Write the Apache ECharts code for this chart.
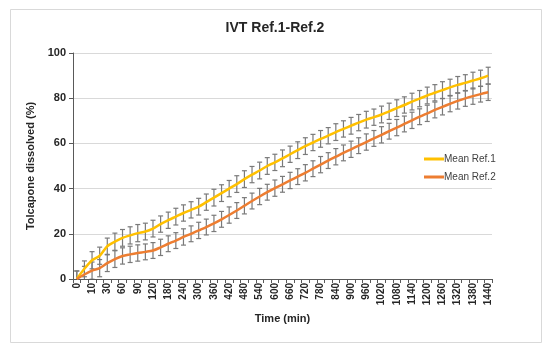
<!DOCTYPE html>
<html><head><meta charset="utf-8">
<script src="https://cdn.jsdelivr.net/npm/echarts@6/dist/echarts.min.js"></script>
<style>html,body{margin:0;padding:0;background:#fff}#c{width:550px;height:352px}</style>
</head><body><div id="c"></div>
<script>
const categories = ['0','5','10','20','30','45','60','75','90','105','120','150','180','210','240','270','300','330','360','390','420','450','480','510','540','570','600','630','660','690','720','750','780','810','840','870','900','930','960','990','1020','1050','1080','1110','1140','1170','1200','1230','1260','1290','1320','1350','1380','1410','1440'];
const ref1Mean = [0,4.5,8.3,10.3,14.5,16.5,18.2,19.3,20.3,21,22.3,24.3,26,27.6,29.2,30.6,32,34,36,38,40,42,44.2,46.2,48,50,51.6,53.4,55.2,57,58.8,60.4,62,63.4,65,66.4,67.8,69.2,70.5,71.6,72.8,74.2,75.6,77,78.5,79.8,81.2,82.4,83.6,84.8,85.9,86.8,87.8,88.8,90];
const ref1Sd = [3.6,3.5,3.8,3.8,3.6,3.8,3.7,3.8,3.8,3.7,3.7,3.6,3.6,3.7,3.6,3.6,3.7,3.6,3.7,3.7,3.6,3.7,3.7,3.6,3.7,3.7,3.6,3.7,3.6,3.7,3.7,3.6,3.7,3.6,3.7,3.6,3.7,3.6,3.7,3.6,3.7,3.6,3.7,3.6,3.7,3.6,3.7,3.6,3.7,3.6,3.7,3.6,3.7,3.6,3.7];
const ref2Mean = [0,2,3.7,4.8,7,8.8,10.2,10.9,11.5,12,12.6,14,15.6,17,18.6,20,21.5,23,24.6,26.4,28.3,30.3,32.4,34.5,36.5,38.4,40.2,41.9,43.6,45.3,47,48.8,50.6,52.4,54.1,55.8,57.4,59,60.6,62.2,63.8,65.4,67,68.6,70.2,71.8,73.3,74.8,76.2,77.5,78.8,79.9,80.9,81.8,82.6];
const ref2Sd = [3.5,3.6,3.8,3.8,3.7,3.7,3.6,3.6,3.6,3.5,3.5,3.6,3.5,3.5,3.6,3.5,3.6,3.5,3.6,3.5,3.6,3.5,3.6,3.5,3.6,3.5,3.6,3.5,3.6,3.5,3.6,3.5,3.6,3.5,3.6,3.5,3.6,3.5,3.6,3.5,3.6,3.5,3.6,3.5,3.6,3.5,3.6,3.5,3.6,3.5,3.6,3.5,3.6,3.5,3.6];
const seriesNames = ['Mean Ref.1','Mean Ref.2'];
const titleText = 'IVT Ref.1-Ref.2';
const xTitle = 'Time (min)';
const yTitle = 'Tolcapone dissolved (%)';

const chart = echarts.init(document.getElementById('c'), null, {renderer:'canvas'});
function errRender(params, api){
  const i = api.value(0), lo = api.value(1), hi = api.value(2);
  const p1 = api.coord([i, hi]), p2 = api.coord([i, lo]);
  const w = 2.5;
  const style = {stroke:'#7a7a7a', lineWidth:1.2};
  return {type:'group', children:[
    {type:'line', shape:{x1:p1[0],y1:p1[1],x2:p2[0],y2:p2[1]}, style},
    {type:'line', shape:{x1:p1[0]-w,y1:p1[1],x2:p1[0]+w,y2:p1[1]}, style},
    {type:'line', shape:{x1:p2[0]-w,y1:p2[1],x2:p2[0]+w,y2:p2[1]}, style}
  ]};
}
const err1 = ref1Mean.map((m,i)=>[i, m-ref1Sd[i], m+ref1Sd[i]]);
const err2 = ref2Mean.map((m,i)=>[i, m-ref2Sd[i], m+ref2Sd[i]]);
const font = 'Liberation Sans, Arial, sans-serif';
chart.setOption({
  animation:false,
  backgroundColor:'#fff',
  graphic:[{type:'rect', shape:{x:10.5,y:9.5,width:531,height:333}, style:{fill:'none', stroke:'#d9d9d9', lineWidth:1}, z:-1}],
  title:{text:titleText, left:'center', top:16, textStyle:{fontFamily:font, fontSize:14, fontWeight:'bold', color:'#262626'}},
  legend:{data:seriesNames, orient:'vertical', left:419, top:149, itemGap:8, itemWidth:20, itemHeight:3, icon:'rect',
    textStyle:{fontFamily:font, fontSize:10, color:'#404040', padding:[0,0,0,-5]}},
  grid:{left:73, right:58, top:53, bottom:73, containLabel:false},
  xAxis:{type:'category', data:categories, boundaryGap:true,
    name:xTitle, nameLocation:'middle', nameGap:25,
    nameTextStyle:{fontFamily:font, fontSize:11, fontWeight:'bold', color:'#262626'},
    axisLine:{lineStyle:{color:'#595959', width:1}},
    axisTick:{show:true, interval:0, length:4, lineStyle:{color:'#595959'}},
    axisLabel:{interval:1, rotate:90, margin:4, fontFamily:font, fontSize:10, fontWeight:'bold', color:'#262626'},
    splitLine:{show:false}},
  yAxis:{type:'value', min:0, max:100, interval:20,
    name:yTitle, nameLocation:'middle', nameGap:27,
    nameTextStyle:{fontFamily:font, fontSize:11, fontWeight:'bold', color:'#262626'},
    axisLine:{show:true, lineStyle:{color:'#595959', width:1}},
    axisTick:{show:true, length:4, lineStyle:{color:'#595959'}},
    axisLabel:{margin:7, fontFamily:font, fontSize:11, fontWeight:'bold', color:'#262626'},
    splitLine:{lineStyle:{color:'#d9d9d9', width:1}}},
  series:[
    {type:'custom', renderItem:errRender, data:err1, encode:{x:0, y:[1,2]}, clip:true, z:1, silent:true},
    {type:'custom', renderItem:errRender, data:err2, encode:{x:0, y:[1,2]}, clip:true, z:1, silent:true},
    {name:seriesNames[0], type:'line', data:ref1Mean, smooth:0.3, showSymbol:false, symbol:'none', z:3,
      lineStyle:{color:'#FFC000', width:2.5}, itemStyle:{color:'#FFC000'}},
    {name:seriesNames[1], type:'line', data:ref2Mean, smooth:0.3, showSymbol:false, symbol:'none', z:3,
      lineStyle:{color:'#ED7D31', width:2.5}, itemStyle:{color:'#ED7D31'}}
  ]
});
</script></body></html>
